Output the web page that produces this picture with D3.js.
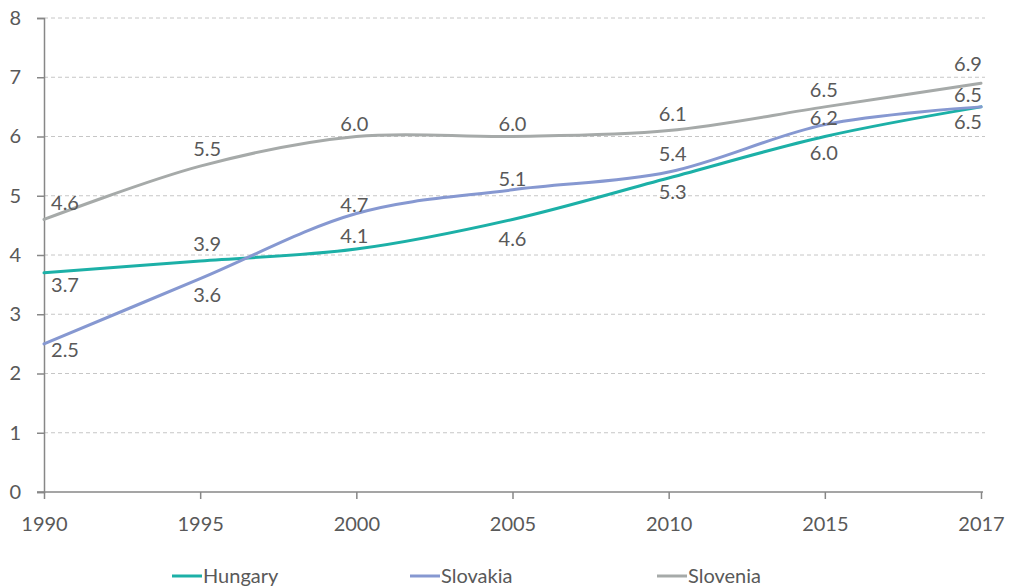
<!DOCTYPE html>
<html>
<head>
<meta charset="utf-8">
<script src="https://cdn.jsdelivr.net/npm/d3@7"></script>
<style>
  html, body { margin: 0; padding: 0; background: #fff; }
  svg text { font-family: Lato, "Open Sans", sans-serif; fill: #595959; }
</style>
</head>
<body>
<svg id="chart" width="1018" height="588"></svg>
<script>
// Years on the category axis
const years = ["1990", "1995", "2000", "2005", "2010", "2015", "2017"];
// Series values
const hungary  = [3.7, 3.9, 4.1, 4.6, 5.3, 6.0, 6.5];
const slovakia = [2.5, 3.6, 4.7, 5.1, 5.4, 6.2, 6.5];
const slovenia = [4.6, 5.5, 6.0, 6.0, 6.1, 6.5, 6.9];
const yTicks = [0, 1, 2, 3, 4, 5, 6, 7, 8];

// Label placement: horizontal shift per year, baseline shift per point
const labelDx = [21, 7, -2, 0, 4, -1, -13];
const series = [
  { name: "Hungary",  values: hungary,  color: "#1cb0a7",
    labelDy: [19, -10, -6, 27, 21, 23.5, 22] },
  { name: "Slovakia", values: slovakia, color: "#8698d1",
    labelDy: [13, 23, -1.5, -4, -11, 0, -5] },
  { name: "Slovenia", values: slovenia, color: "#a6aaa9",
    labelDy: [-9.5, -10, -5.5, -5.5, -9.5, -10, -12] }
];

const svg = d3.select("#chart");
const plotL = 44, plotR = 981, plotT = 18, plotB = 492;
const fontFamily = "Lato, 'Open Sans', sans-serif";

const x = d3.scalePoint().domain(years).range([plotL, plotR]);
const y = d3.scaleLinear().domain([0, 8]).range([plotB, plotT]);

// Dashed horizontal gridlines
svg.append("g")
  .selectAll("line")
  .data(yTicks.filter(d => d > 0))
  .join("line")
  .attr("x1", plotL).attr("x2", plotR + 4)
  .attr("y1", d => y(d)).attr("y2", d => y(d))
  .attr("stroke", "#c6c6c6")
  .attr("stroke-width", 1)
  .attr("stroke-dasharray", "4,3");

// Y axis
const yAxis = svg.append("g")
  .attr("transform", `translate(${plotL},0)`)
  .call(d3.axisLeft(y).tickValues(yTicks).tickSize(7).tickPadding(16).tickFormat(d3.format("d")));
yAxis.select(".domain").attr("stroke", "#878787").attr("stroke-width", 1.5);
yAxis.selectAll(".tick line").attr("stroke", "#878787").attr("stroke-width", 1.5);
yAxis.selectAll(".tick text").attr("font-size", 20).attr("fill", "#595959")
  .style("font-family", fontFamily);

// X axis
const xAxis = svg.append("g")
  .attr("transform", `translate(0,${plotB})`)
  .call(d3.axisBottom(x).tickSize(7).tickSizeOuter(0).tickPadding(18));
xAxis.select(".domain").attr("stroke", "#878787").attr("stroke-width", 1.5)
  .attr("d", `M${plotL - 7},0H${plotR + 2}`);
xAxis.selectAll(".tick line").attr("stroke", "#878787").attr("stroke-width", 1.5);
xAxis.selectAll(".tick text").attr("font-size", 20).attr("fill", "#595959")
  .style("font-family", fontFamily);

// Smoothed lines
const line = d3.line()
  .x((d, i) => x(years[i]))
  .y(d => y(d))
  .curve(d3.curveCardinal.tension(0));

const plot = svg.append("g");
series.forEach(s => {
  plot.append("path")
    .datum(s.values)
    .attr("d", line)
    .attr("fill", "none")
    .attr("stroke", s.color)
    .attr("stroke-width", 3)
    .attr("stroke-linecap", "round");
});

// Value labels
const fmt = d3.format(".1f");
series.forEach(s => {
  svg.append("g")
    .selectAll("text")
    .data(s.values)
    .join("text")
    .attr("x", (d, i) => x(years[i]) + labelDx[i])
    .attr("y", (d, i) => y(d) + s.labelDy[i])
    .attr("text-anchor", "middle")
    .attr("font-size", 20)
    .text(d => fmt(d));
});

// Legend
const legendX = [172, 410, 657];
const legend = svg.append("g");
series.forEach((s, i) => {
  const g = legend.append("g").attr("transform", `translate(${legendX[i]},576)`);
  g.append("line").attr("x1", 0).attr("x2", 30).attr("y1", 0).attr("y2", 0)
    .attr("stroke", s.color).attr("stroke-width", 3);
  g.append("text").attr("x", 31).attr("y", 7).attr("font-size", 20).text(s.name);
});
</script>
</body>
</html>
